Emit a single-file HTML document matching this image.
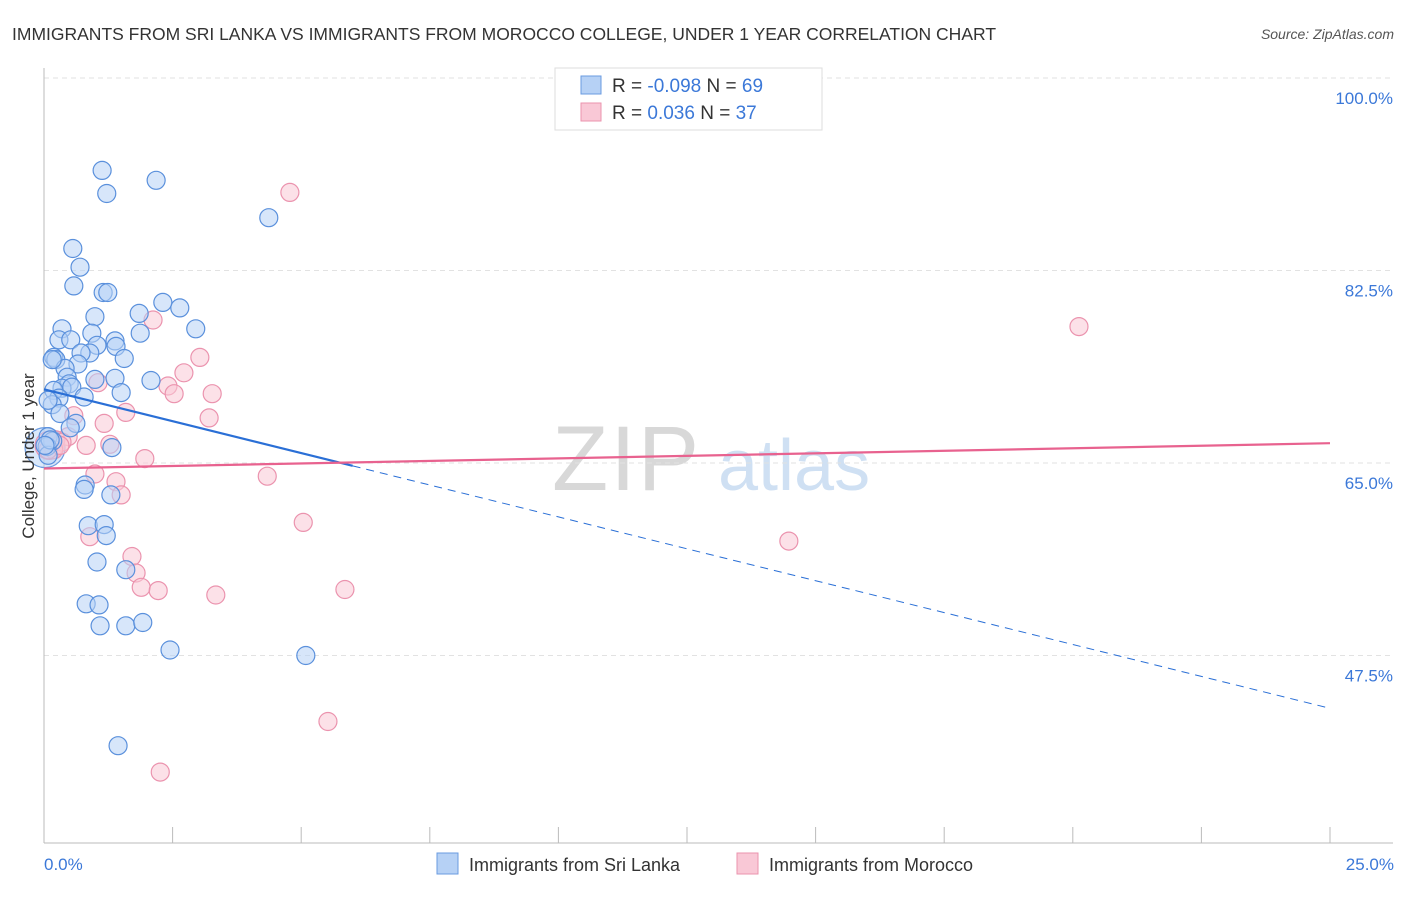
<!DOCTYPE html>
<html><head><meta charset="utf-8"><style>
body{margin:0;background:#fff;font-family:"Liberation Sans",sans-serif;}
svg text{font-family:"Liberation Sans",sans-serif;}
</style></head><body>
<svg width="1406" height="892" viewBox="0 0 1406 892">
<text x="12" y="40" font-size="17.5" fill="#333">IMMIGRANTS FROM SRI LANKA VS IMMIGRANTS FROM MOROCCO COLLEGE, UNDER 1 YEAR CORRELATION CHART</text>
<text x="1394" y="39" font-size="14" fill="#555" font-style="italic" text-anchor="end">Source: ZipAtlas.com</text>
<g><text x="552" y="490" font-size="92" fill="#d8d8d8" font-family="Liberation Serif" letter-spacing="2">ZIP</text><text x="718" y="490" font-size="72" fill="#cfe0f3">atlas</text></g>
<g id="grid"></g>
<g id="axes"></g>
<g id="pts"></g>
<g id="trend"></g>
<text transform="translate(34,456) rotate(-90)" font-size="17" fill="#333" text-anchor="middle">College, Under 1 year</text>
<text x="44" y="870" font-size="17" fill="#3b78d8">0.0%</text>
<text x="1394" y="870" font-size="17" fill="#3b78d8" text-anchor="end">25.0%</text>
<g>
<rect x="555" y="68" width="267" height="62" fill="#fff" stroke="#ddd"/>
<rect x="581" y="76" width="20" height="18" fill="#b6d1f5" stroke="#6a9be0"/>
<rect x="581" y="103" width="20" height="18" fill="#f9c8d6" stroke="#eb93ae"/>
<text x="612" y="92" font-size="19" fill="#333">R = <tspan fill="#3b78d8">-0.098</tspan>   N = <tspan fill="#3b78d8">69</tspan></text>
<text x="612" y="119" font-size="19" fill="#333">R =  <tspan fill="#3b78d8"> 0.036</tspan>   N = <tspan fill="#3b78d8">37</tspan></text>
</g>
<g>
<rect x="437" y="853" width="21" height="21" fill="#b6d1f5" stroke="#6a9be0"/>
<text x="469" y="871" font-size="18" fill="#333">Immigrants from Sri Lanka</text>
<rect x="737" y="853" width="21" height="21" fill="#f9c8d6" stroke="#eb93ae"/>
<text x="769" y="871" font-size="18" fill="#333">Immigrants from Morocco</text>
</g>
</svg>
<script>
const yTicks=[100,82.5,65,47.5];
const yTickLabels=["100.0%","82.5%","65.0%","47.5%"];
const blueX=[1.13,1.22,2.18,4.37,0.56,0.70,0.58,1.15,1.24,2.31,2.64,1.85,0.99,0.35,0.93,2.95,1.87,0.29,0.52,1.38,1.40,1.03,0.89,0.72,0.19,0.23,1.56,0.66,0.41,0.99,1.38,2.08,0.45,0.49,0.35,0.54,0.78,1.50,0.19,0.29,0.16,0.31,0.62,0.51,0.08,0.17,0.06,1.32,0.80,0.78,1.30,0.86,1.17,1.21,1.03,1.59,0.82,1.07,1.09,1.59,1.92,2.45,5.09,1.44,0.08,0.12,0.08,0.16,0.02];
const blueY=[91.6,89.5,90.7,87.3,84.5,82.8,81.1,80.5,80.5,79.6,79.1,78.6,78.3,77.2,76.8,77.2,76.8,76.2,76.2,76.1,75.6,75.7,75.0,75.0,74.6,74.4,74.5,74.0,73.6,72.6,72.7,72.5,72.8,72.2,71.8,71.9,71.0,71.4,71.6,70.9,70.3,69.5,68.6,68.2,67.4,67.0,66.5,66.4,63.0,62.6,62.1,59.3,59.4,58.4,56.0,55.3,52.2,52.1,50.2,50.2,50.5,48.0,47.5,39.3,65.7,67.1,70.7,74.4,66.6];
const pinkX=[4.78,2.12,20.12,3.03,2.72,1.05,2.41,3.27,2.53,1.59,3.21,0.58,1.17,0.47,0.23,0.35,0.82,1.28,1.96,0.99,4.34,1.40,1.50,5.04,0.89,1.71,1.79,1.89,2.22,3.34,5.85,14.48,5.52,2.26,0.19,0.08,0.31];
const pinkY=[89.6,78.0,77.4,74.6,73.2,72.3,72.0,71.3,71.3,69.6,69.1,69.3,68.6,67.4,67.1,66.9,66.6,66.7,65.4,64.0,63.8,63.3,62.1,59.6,58.3,56.5,55.0,53.7,53.4,53.0,53.5,57.9,41.5,36.9,66.2,66.2,66.6];
const blueTrend=[71.7,42.7];
const pinkTrend=[64.5,66.8];
const NS="http://www.w3.org/2000/svg";
const X=v=>44+v/25*1286, Y=v=>78+(100-v)*11;
function mk(t,a,p){const e=document.createElementNS(NS,t);for(const k in a)e.setAttribute(k,a[k]);p.appendChild(e);return e;}
const grid=document.getElementById('grid'),axes=document.getElementById('axes'),pts=document.getElementById('pts'),tr=document.getElementById('trend');
yTicks.forEach((t,i)=>{
 const l=mk('line',{x1:44,x2:1393,y1:Y(t),y2:Y(t),stroke:'#e2e2e2','stroke-dasharray':'5,4'},grid);
 
 
 const tx=mk('text',{x:1393,y:Y(t)+26,'font-size':17,fill:'#3b78d8','text-anchor':'end'},grid);
 tx.textContent=yTickLabels[i];
 
 
});
mk('line',{x1:44,x2:44,y1:68,y2:843,stroke:'#bbb'},axes);
mk('line',{x1:44,x2:1393,y1:843,y2:843,stroke:'#bbb'},axes);
for(let i=0;i<=10;i++){const t=mk('line',{x1:X(i*2.5),x2:X(i*2.5),y1:827,y2:843,stroke:'#bbb'},axes);
 
 }
// big overlapping circles near origin
[[0.02,66.4,20,'#b6d1f5','#6a9be0'],[0.1,66.6,14,'#f9c8d6','#eb93ae']].forEach(b=>{
 const c=mk('circle',{cx:X(b[0]),cy:Y(b[1]),r:b[2],fill:b[3],'fill-opacity':0.5,stroke:b[4],'stroke-width':1.2},pts);
 
 });
pinkX.forEach((x,i)=>{const c=mk('circle',{cx:X(x),cy:Y(pinkY[i]),r:9,fill:'#f9c8d6','fill-opacity':0.55,stroke:'#eb93ae','stroke-width':1.2},pts);
 
 });
blueX.forEach((x,i)=>{const c=mk('circle',{cx:X(x),cy:Y(blueY[i]),r:9,fill:'#b6d1f5','fill-opacity':0.55,stroke:'#5a90dc','stroke-width':1.2},pts);
 
 });
const bx=6.0, by=blueTrend[0]+(blueTrend[1]-blueTrend[0])*bx/25;
const b1=mk('line',{x1:X(0),y1:Y(blueTrend[0]),x2:X(bx),y2:Y(by),stroke:'#2a6fd6','stroke-width':2.2},tr);


const b2=mk('line',{x1:X(bx),y1:Y(by),x2:X(25),y2:Y(blueTrend[1]),stroke:'#2a6fd6','stroke-width':1,'stroke-dasharray':'8,6'},tr);


const p1=mk('line',{x1:X(0),y1:Y(pinkTrend[0]),x2:X(25),y2:Y(pinkTrend[1]),stroke:'#e8628f','stroke-width':2.2},tr);


</script>
</body></html>
